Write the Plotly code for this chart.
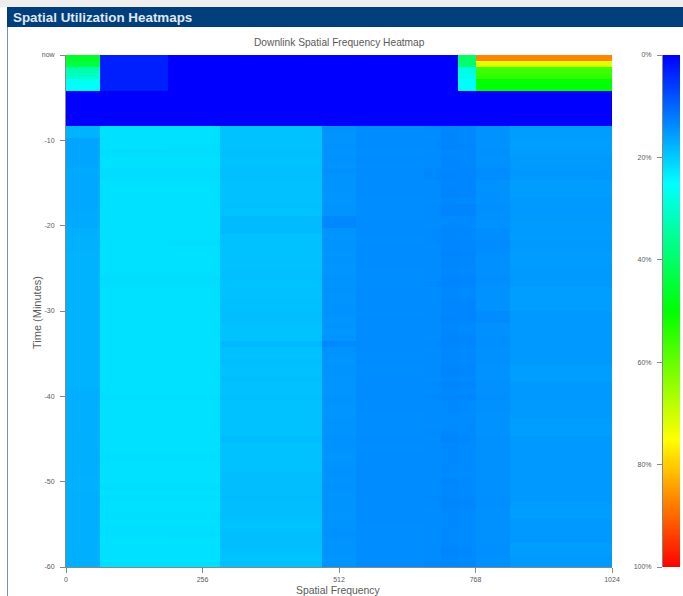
import numpy as np
import plotly.graph_objects as go

W, H = 683, 596
# frequency bin edges (spatial frequency units)
freq_edges = [0, 64, 192, 288, 480, 544, 672, 704, 736, 768, 832, 1024]

# utilization %, newest row first (one row per scan), one value per frequency bin
top_rows = [
    [46, 3, 0, 0, 0, 0, 0, 0, 40, 87, 87],
    [44, 3, 0, 0, 0, 0, 0, 0, 39, 72, 72],
    [33, 3, 0, 0, 0, 0, 0, 0, 28, 56, 56],
    [31, 3, 0, 0, 0, 0, 0, 0, 27, 55, 55],
    [26, 3, 0, 0, 0, 0, 0, 0, 25, 50, 50],
    [25, 3, 0, 0, 0, 0, 0, 0, 25, 50, 50],
    [0, 0, 0, 0, 0, 0, 0, 0, 0, 0, 0],
    [0, 0, 0, 0, 0, 0, 0, 0, 0, 0, 0],
    [0, 0, 0, 0, 0, 0, 0, 0, 0, 0, 0],
    [0, 0, 0, 0, 0, 0, 0, 0, 0, 0, 0],
    [0, 0, 0, 0, 0, 0, 0, 0, 0, 0, 0],
    [0, 0, 0, 0, 0, 0, 0, 0, 0, 0, 0],
]
body_rows = [
    [17.5, 22.0, 22.0, 19.0, 14.3, 13.8, 13.6, 13.1, 13.3, 14.3, 15.4],
    [17.5, 22.0, 22.0, 19.0, 14.5, 13.7, 13.6, 13.0, 13.3, 14.4, 15.4],
    [16.2, 22.0, 22.0, 19.0, 14.5, 13.7, 13.5, 13.0, 13.3, 14.3, 15.5],
    [16.2, 22.0, 21.8, 19.0, 14.4, 13.6, 13.5, 13.0, 13.2, 14.3, 15.5],
    [16.2, 21.7, 21.7, 18.8, 14.5, 13.8, 13.6, 13.3, 13.4, 14.2, 15.3],
    [16.2, 22.0, 22.0, 19.0, 14.4, 13.7, 13.6, 13.2, 13.3, 14.3, 15.1],
    [16.3, 22.0, 22.0, 18.9, 14.5, 13.8, 13.6, 13.2, 13.3, 14.2, 15.1],
    [16.8, 21.7, 21.7, 18.8, 14.2, 13.6, 13.4, 13.1, 13.1, 13.7, 14.9],
    [16.6, 21.7, 21.7, 18.8, 14.5, 13.7, 13.2, 13.0, 13.1, 13.8, 14.9],
    [16.6, 22.0, 22.0, 19.0, 14.5, 13.6, 13.6, 13.1, 13.2, 14.4, 15.3],
    [16.6, 22.0, 22.0, 19.0, 14.5, 13.7, 13.6, 13.0, 13.1, 14.4, 15.4],
    [16.6, 22.0, 22.0, 19.0, 14.6, 13.7, 13.6, 13.0, 13.1, 14.4, 15.3],
    [16.6, 22.0, 22.0, 19.0, 14.6, 13.8, 13.6, 13.4, 13.5, 14.3, 15.1],
    [16.6, 22.0, 22.0, 18.9, 14.5, 13.8, 13.5, 13.0, 13.0, 14.0, 15.0],
    [16.7, 22.0, 22.0, 19.0, 14.5, 13.8, 13.5, 13.0, 13.0, 14.2, 15.0],
    [16.7, 22.0, 22.0, 18.3, 13.4, 13.8, 13.6, 13.5, 13.5, 14.2, 15.1],
    [16.7, 22.0, 22.0, 18.3, 13.3, 13.7, 13.6, 13.4, 13.5, 14.3, 15.2],
    [17.3, 22.0, 22.0, 18.4, 14.5, 13.7, 13.5, 13.1, 13.1, 13.8, 15.2],
    [17.4, 22.0, 22.0, 19.0, 14.6, 13.8, 13.5, 13.1, 13.4, 13.9, 15.3],
    [17.4, 22.0, 21.8, 19.0, 14.5, 13.8, 13.5, 13.2, 13.3, 13.7, 15.0],
    [17.4, 22.0, 22.0, 19.0, 14.5, 13.7, 13.6, 13.1, 13.3, 13.7, 15.1],
    [17.5, 22.0, 22.0, 19.0, 14.6, 13.6, 13.6, 13.0, 13.2, 14.0, 15.3],
    [17.5, 22.0, 22.0, 19.0, 14.5, 13.6, 13.6, 13.1, 13.3, 14.2, 15.3],
    [17.5, 22.0, 22.0, 19.0, 14.6, 13.7, 13.6, 13.1, 13.4, 14.1, 15.2],
    [17.5, 22.0, 22.0, 18.8, 14.6, 13.8, 13.6, 13.3, 13.5, 14.2, 15.1],
    [17.5, 21.7, 21.7, 18.8, 14.5, 13.8, 13.6, 13.0, 13.1, 14.0, 15.1],
    [17.5, 21.7, 21.7, 19.0, 14.5, 13.8, 13.4, 13.0, 13.1, 14.1, 15.0],
    [17.5, 22.0, 22.0, 19.0, 14.4, 13.7, 13.6, 13.4, 13.5, 14.4, 15.5],
    [17.5, 22.0, 22.0, 19.0, 14.5, 13.7, 13.6, 13.4, 13.5, 14.4, 15.5],
    [17.5, 22.0, 22.0, 18.8, 14.5, 13.7, 13.6, 13.0, 13.2, 14.4, 15.5],
    [17.5, 22.0, 22.0, 18.8, 14.4, 13.7, 13.6, 13.1, 13.2, 14.3, 15.5],
    [17.5, 22.0, 22.0, 18.6, 14.5, 13.8, 13.6, 13.1, 13.1, 13.7, 15.1],
    [17.5, 22.0, 22.0, 18.6, 14.6, 13.7, 13.6, 13.0, 13.1, 13.6, 15.0],
    [17.5, 22.0, 22.0, 19.0, 14.5, 13.7, 13.6, 13.4, 13.5, 14.2, 15.0],
    [17.5, 22.0, 22.0, 19.0, 14.8, 13.7, 13.6, 13.2, 13.5, 14.2, 15.0],
    [17.5, 22.0, 22.0, 19.0, 14.6, 13.7, 13.6, 13.0, 13.1, 14.0, 15.0],
    [17.5, 22.0, 22.0, 18.2, 13.4, 13.7, 13.5, 13.0, 13.1, 14.0, 15.0],
    [17.5, 22.0, 22.0, 18.9, 14.4, 13.7, 13.6, 13.4, 13.5, 14.2, 15.0],
    [17.5, 22.0, 22.0, 19.0, 14.5, 13.8, 13.6, 13.2, 13.4, 14.2, 15.0],
    [17.5, 22.0, 22.0, 18.6, 14.6, 13.7, 13.6, 13.4, 13.5, 14.2, 15.0],
    [17.5, 22.0, 22.0, 19.0, 14.5, 13.8, 13.6, 13.0, 13.2, 14.4, 15.5],
    [17.5, 22.0, 22.0, 19.0, 14.5, 13.8, 13.6, 13.0, 13.2, 14.4, 15.5],
    [17.5, 22.0, 22.0, 18.7, 14.6, 13.7, 13.6, 13.4, 13.5, 14.4, 15.5],
    [17.5, 22.0, 22.0, 19.0, 14.7, 13.6, 13.4, 13.0, 13.1, 14.2, 15.0],
    [17.2, 22.0, 22.0, 19.0, 14.6, 13.7, 13.6, 13.4, 13.5, 14.2, 15.0],
    [17.2, 21.9, 21.9, 18.8, 14.5, 13.6, 13.4, 13.1, 13.1, 14.0, 15.0],
    [17.2, 22.0, 22.0, 19.0, 14.5, 13.7, 13.6, 13.3, 13.5, 14.2, 15.0],
    [17.2, 22.0, 22.0, 19.0, 14.6, 13.7, 13.6, 13.4, 13.5, 14.2, 15.1],
    [17.2, 22.0, 22.0, 19.0, 14.6, 13.8, 13.6, 13.5, 13.6, 14.3, 15.1],
    [17.2, 22.0, 22.0, 19.0, 14.5, 13.8, 13.6, 13.5, 13.6, 14.3, 15.4],
    [17.2, 22.0, 22.0, 19.0, 14.5, 13.8, 13.6, 13.4, 13.5, 14.3, 15.5],
    [17.3, 22.0, 22.0, 19.0, 14.5, 13.8, 13.5, 13.2, 13.5, 14.3, 15.5],
    [17.3, 22.0, 22.0, 18.5, 14.4, 13.7, 13.6, 13.0, 13.4, 14.2, 15.0],
    [17.2, 22.0, 22.0, 19.0, 14.4, 13.8, 13.6, 13.4, 13.5, 14.2, 15.0],
    [17.2, 22.0, 22.0, 19.0, 14.5, 13.8, 13.6, 13.4, 13.5, 14.2, 15.0],
    [17.3, 21.9, 21.9, 19.0, 14.6, 13.7, 13.6, 13.4, 13.5, 14.2, 15.0],
    [17.3, 22.0, 22.0, 19.0, 14.5, 13.7, 13.6, 13.3, 13.5, 14.2, 15.0],
    [17.2, 22.0, 22.0, 19.0, 14.3, 13.7, 13.6, 13.4, 13.5, 14.2, 15.0],
    [17.2, 22.0, 22.0, 18.6, 14.4, 13.7, 13.6, 13.5, 13.6, 14.2, 15.0],
    [17.4, 22.0, 22.0, 18.6, 14.5, 13.7, 13.6, 13.2, 13.5, 14.1, 15.0],
    [17.4, 21.8, 21.8, 18.6, 14.4, 13.7, 13.6, 13.4, 13.5, 14.2, 15.0],
    [17.3, 22.0, 22.0, 18.6, 14.5, 13.7, 13.6, 13.4, 13.5, 14.1, 15.0],
    [17.2, 21.9, 21.9, 18.5, 14.5, 13.7, 13.4, 13.1, 13.3, 14.0, 15.0],
    [17.2, 22.0, 22.0, 18.6, 14.5, 13.7, 13.5, 13.0, 13.2, 14.0, 15.4],
    [17.2, 22.0, 22.0, 18.6, 14.5, 13.7, 13.6, 13.3, 13.5, 14.1, 15.5],
    [17.2, 21.9, 21.9, 18.6, 14.6, 13.7, 13.6, 13.4, 13.5, 14.2, 15.5],
    [17.2, 22.0, 22.0, 19.0, 14.5, 13.7, 13.6, 13.4, 13.5, 14.2, 15.0],
    [17.2, 21.9, 21.9, 19.0, 14.5, 13.8, 13.6, 13.4, 13.5, 14.2, 15.0],
    [17.2, 21.9, 21.8, 18.6, 14.2, 13.8, 13.6, 13.4, 13.5, 14.2, 15.0],
    [17.2, 22.0, 22.0, 18.6, 14.5, 13.8, 13.6, 13.4, 13.5, 14.2, 15.0],
    [17.3, 22.0, 22.0, 18.6, 14.5, 13.8, 13.6, 13.2, 13.5, 14.0, 15.5],
    [17.3, 22.0, 22.0, 19.0, 14.5, 13.8, 13.6, 13.0, 13.4, 14.0, 15.4],
    [17.3, 22.0, 22.0, 19.0, 14.6, 13.8, 13.6, 13.4, 13.5, 14.2, 15.0],
    [17.3, 22.0, 22.0, 19.0, 14.5, 13.7, 13.4, 13.1, 13.4, 14.2, 15.0],
]
x_tick_vals = [0, 256, 512, 768, 1024]
y_tick_vals = [0, -10, -20, -30, -40, -50, -60]
y_tick_text = ["now", "-10", "-20", "-30", "-40", "-50", "-60"]
bar_levels = list(range(0, 101))
bar_tick_vals = [0, 20, 40, 60, 80, 100]
bar_tick_text = ["0%", "20%", "40%", "60%", "80%", "100%"]

rows = top_rows + body_rows
z = np.array(rows)
time_edges = np.linspace(0, -60, len(rows) + 1)

scale = [[0, "#0000ff"], [0.25, "#00ffff"], [0.5, "#00ff00"], [0.75, "#ffff00"], [1, "#ff0000"]]
FONT = "Liberation Sans"
GREY = "#5a5a5a"

def px(x0, x1):
    return [x0 / W, x1 / W]

def py(y0, y1):
    return [1 - y1 / H, 1 - y0 / H]

fig = go.Figure()
fig.add_trace(go.Heatmap(x=freq_edges, y=time_edges, z=z, zmin=0, zmax=100,
                         colorscale=scale, showscale=False, xaxis="x", yaxis="y"))
fig.add_trace(go.Heatmap(x=[0, 1], y=bar_levels, z=[[v] for v in bar_levels], zmin=0, zmax=100,
                         colorscale=scale, showscale=False, xaxis="x2", yaxis="y2", zsmooth="best"))

axcommon = dict(showgrid=False, zeroline=False, ticks="outside", ticklen=5, tickwidth=1,
                tickcolor="#888888", linecolor="#888888", showline=True, automargin=False,
                tickfont=dict(family=FONT, size=7, color=GREY))
fig.update_layout(
    width=W, height=H, margin=dict(l=0, r=0, t=0, b=0),
    paper_bgcolor="white", plot_bgcolor="white", showlegend=False,
    font=dict(family=FONT),
    xaxis=dict(domain=px(66, 612), range=[0, 1024], tickvals=x_tick_vals, anchor="y",
               ticklabelstandoff=1, **axcommon),
    yaxis=dict(domain=py(55, 567), range=[-60, 0], tickvals=y_tick_vals, ticktext=y_tick_text,
               anchor="x", ticklabelstandoff=4, **axcommon),
    xaxis2=dict(domain=px(663, 680), range=[0, 1], showticklabels=False, showgrid=False,
                zeroline=False, anchor="y2", automargin=False),
    yaxis2=dict(domain=py(55, 567), range=[100, 0], tickvals=bar_tick_vals, ticktext=bar_tick_text,
                anchor="x2", ticklabelstandoff=4, **axcommon),
    shapes=[
        dict(type="rect", xref="paper", yref="paper", x0=0, x1=1, y0=1 - 7 / H, y1=1,
             fillcolor="#eeeeee", line_width=0),
        dict(type="rect", xref="paper", yref="paper", x0=7 / W, x1=1, y0=1 - 27 / H, y1=1 - 7 / H,
             fillcolor="#003f7c", line_width=0),
        dict(type="line", xref="paper", yref="paper", x0=7.5 / W, x1=7.5 / W, y0=0, y1=1 - 27 / H,
             line=dict(color="#6f93bb", width=1)),
    ],
    annotations=[
        dict(text="<b>Spatial Utilization Heatmaps</b>", xref="paper", yref="paper", x=11 / W,
             y=1 - 17.5 / H, xanchor="left", yanchor="middle", showarrow=False,
             font=dict(family=FONT, size=13.4, color="#dfe8f2")),
        dict(text="Downlink Spatial Frequency Heatmap", xref="paper", yref="paper", x=339 / W,
             y=1 - 43 / H, xanchor="center", yanchor="middle", showarrow=False,
             font=dict(family=FONT, size=10.2, color=GREY)),
        dict(text="Spatial Frequency", xref="paper", yref="paper", x=338 / W,
             y=1 - 590 / H, xanchor="center", yanchor="middle", showarrow=False,
             font=dict(family=FONT, size=10.4, color=GREY)),
        dict(text="Time (Minutes)", xref="paper", yref="paper", x=37 / W,
             y=1 - 313 / H, xanchor="center", yanchor="middle", showarrow=False, textangle=-90,
             font=dict(family=FONT, size=11, color=GREY)),
    ],
)
fig.write_html("out.html", config={"displayModeBar": False},
               post_script="document.documentElement.style.margin='0';document.body.style.margin='0';")
